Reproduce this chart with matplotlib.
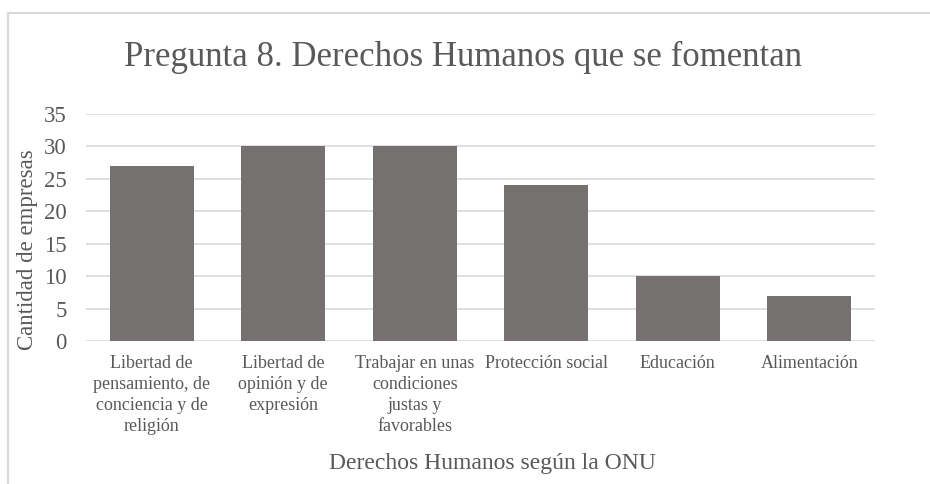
import matplotlib
matplotlib.use("Agg")
import matplotlib.pyplot as plt
from matplotlib.lines import Line2D

categories = [
    "Libertad de\npensamiento, de\nconciencia y de\nreligión",
    "Libertad de\nopinión y de\nexpresión",
    "Trabajar en unas\ncondiciones\njustas y\nfavorables",
    "Protección social",
    "Educación",
    "Alimentación",
]
values = [27, 30, 30, 24, 10, 7]
y_ticks = [0, 5, 10, 15, 20, 25, 30, 35]

BAR = "#767171"
TEXT = "#595959"
GRID = "#D9D9D9"

plt.rcParams["font.family"] = ["Liberation Serif", "DejaVu Serif"]

fig = plt.figure(figsize=(9.3, 4.84), dpi=100)
ax = fig.add_axes([86 / 930, 143 / 484, 789 / 930, 227 / 484])

x = list(range(len(categories)))
ax.bar(x, values, width=0.64, color=BAR, zorder=2)
ax.set_xlim(-0.5, len(categories) - 0.5)
ax.set_ylim(0, 35)
ax.set_yticks(y_ticks)
ax.set_yticklabels([str(t) for t in y_ticks], fontsize=16.5, color=TEXT)
ax.set_xticks(x)
ax.set_xticklabels(categories, fontsize=13, color=TEXT, linespacing=1.3, va="top")
ax.tick_params(axis="both", length=0)
ax.tick_params(axis="x", pad=10)
ax.tick_params(axis="y", pad=14)
ax.grid(axis="y", color=GRID, linewidth=1.2, zorder=0)
for s in ax.spines.values():
    s.set_visible(False)

fig.text(27 / 930, 1 - 250 / 484, "Cantidad de empresas", fontsize=16.5, color=TEXT,
         rotation=90, ha="center", va="center")
fig.text(492 / 930, 1 - 463 / 484, "Derechos Humanos según la ONU", fontsize=17,
         color=TEXT, ha="center", va="center")
fig.text(463 / 930, 1 - 57 / 484, "Pregunta 8. Derechos Humanos que se fomentan",
         fontsize=25, color=TEXT, ha="center", va="center")

# chart frame (left and top edges visible)
fig.add_artist(Line2D([7.5 / 930, 7.5 / 930], [0, 1 - 12.5 / 484], color=GRID,
                      linewidth=1.5, transform=fig.transFigure))
fig.add_artist(Line2D([7.5 / 930, 1], [1 - 12.5 / 484, 1 - 12.5 / 484], color=GRID,
                      linewidth=1.5, transform=fig.transFigure))

fig.savefig("out.png", dpi=100)
